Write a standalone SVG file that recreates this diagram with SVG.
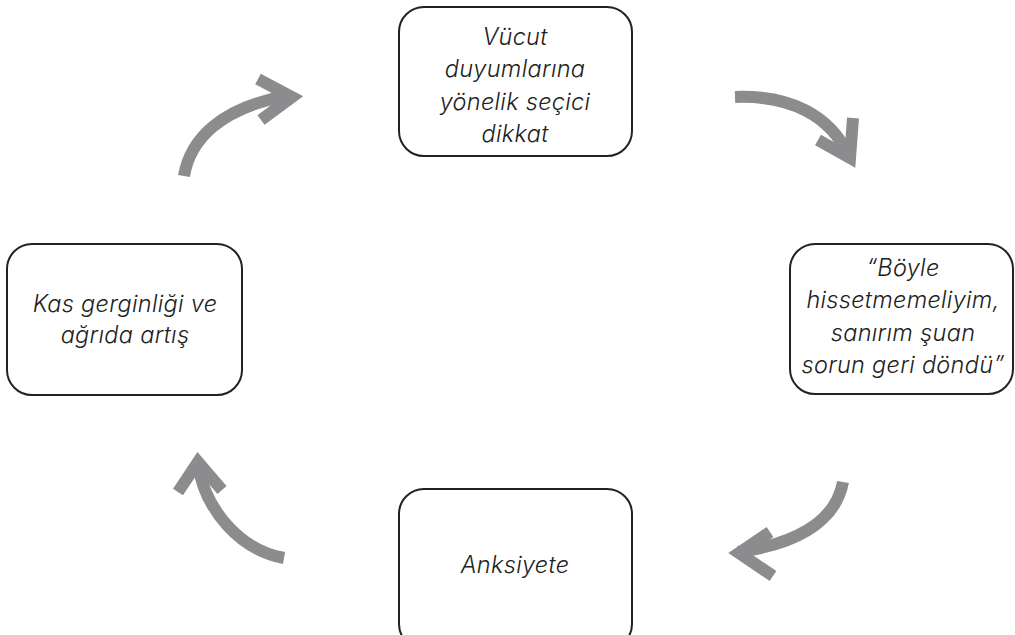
<svg xmlns="http://www.w3.org/2000/svg" width="1015" height="635" viewBox="0 0 1015 635">
<style>
.box{fill:#fff;stroke:#222;stroke-width:2}
.t{font-family:Inter,"Noto Sans","DejaVu Sans",sans-serif;font-style:italic;font-weight:300;font-size:23.5px;letter-spacing:0.3px;fill:#222;text-anchor:middle}
.arr{fill:none;stroke:#8c8c8e;stroke-width:12}
.head{fill:none;stroke:#8c8c8e;stroke-width:12;stroke-linejoin:miter;stroke-miterlimit:10}
</style>
<rect width="1015" height="635" fill="#fff"/>
<g id="connectors">
<path class="arr" d="M184,176 C190,140 220,108 286,96"/>
<polyline class="head" points="258,79 292,97 261,120"/>
<path class="arr" d="M735,97 C790,95 830,115 849,156"/>
<polyline class="head" points="818,140 850,158 853,118"/>
<path class="arr" d="M843,482 C835,525 790,545 738,552"/>
<polyline class="head" points="770,532 739,553 773,576"/>
<path class="arr" d="M284,558 C240,550 205,510 198,464"/>
<polyline class="head" points="178,492 198,462 222,490"/>
</g>
<g id="n1">
<rect class="box" x="399" y="7" width="233" height="149" rx="25"/>
<text class="t" x="515" y="45">Vücut</text>
<text class="t" x="515" y="77">duyumlarına</text>
<text class="t" x="515" y="110">yönelik seçici</text>
<text class="t" x="515" y="142">dikkat</text>
</g>
<g id="n2">
<rect class="box" x="790" y="244" width="223" height="150" rx="25"/>
<text class="t" x="903" y="276">“Böyle</text>
<text class="t" x="903" y="308">hissetmemeliyim,</text>
<text class="t" x="903" y="341">sanırım şuan</text>
<text class="t" x="903" y="373">sorun geri döndü”</text>
</g>
<g id="n3">
<rect class="box" x="399" y="489" width="233" height="160" rx="25"/>
<text class="t" x="515" y="573">Anksiyete</text>
</g>
<g id="n4">
<rect class="box" x="7" y="244" width="235" height="151" rx="25"/>
<text class="t" x="125" y="312">Kas gerginliği ve</text>
<text class="t" x="125" y="343">ağrıda artış</text>
</g>
</svg>
